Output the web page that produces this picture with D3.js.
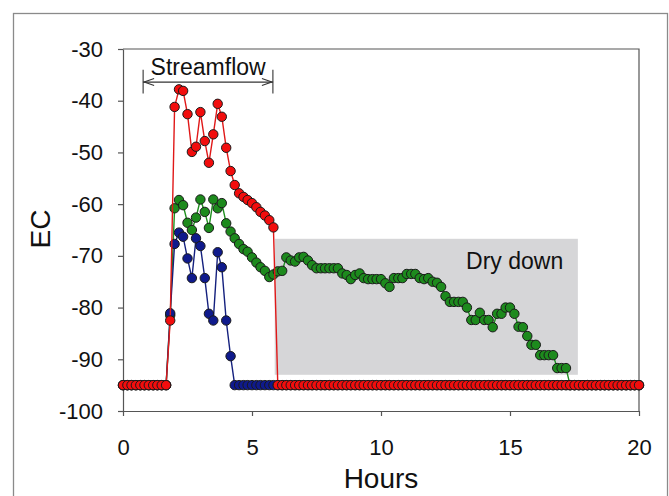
<!DOCTYPE html>
<html><head><meta charset="utf-8">
<script src="https://cdn.jsdelivr.net/npm/d3@7/dist/d3.min.js"></script>
<style>
body{margin:0;background:#fff}
svg{display:block}
text{font-family:"Liberation Sans",Arial,sans-serif;fill:#111}
</style>
</head><body>
<svg id="chart" width="669" height="496"></svg>
<script>
// ---- data (10-minute samples) ----
const hours = [
 0,0.17,0.33,0.5,0.67,0.83,1,1.17,1.33,1.5,1.67,1.83,2,2.17,2.33,2.5,2.67,2.83,3,3.17,
 3.33,3.5,3.67,3.83,4,4.17,4.33,4.5,4.67,4.83,5,5.17,5.33,5.5,5.67,5.83,6,6.17,6.33,6.5,
 6.67,6.83,7,7.17,7.33,7.5,7.67,7.83,8,8.17,8.33,8.5,8.67,8.83,9,9.17,9.33,9.5,9.67,9.83,
 10,10.17,10.33,10.5,10.67,10.83,11,11.17,11.33,11.5,11.67,11.83,12,12.17,12.33,12.5,12.67,12.83,13,13.17,
 13.33,13.5,13.67,13.83,14,14.17,14.33,14.5,14.67,14.83,15,15.17,15.33,15.5,15.67,15.83,16,16.17,16.33,16.5,
 16.67,16.83,17,17.17,17.33,17.5,17.67,17.83,18,18.17,18.33,18.5,18.67,18.83,19,19.17,19.33,19.5,19.67,19.83,
 20
];
const redEC = [
 -95,-95,-95,-95,-95,-95,-95,-95,-95,-95,-95,-82.5,-41.2,-37.8,-38.1,-42.6,-49.9,-48.9,-42.2,-47.8,
 -52.0,-46.5,-40.6,-43.1,-49.1,-53.6,-56.3,-57.9,-58.6,-59.2,-59.8,-60.6,-61.5,-62.2,-63.1,-64.5,-95,-95,-95,-95,
 -95,-95,-95,-95,-95,-95,-95,-95,-95,-95,-95,-95,-95,-95,-95,-95,-95,-95,-95,-95,
 -95,-95,-95,-95,-95,-95,-95,-95,-95,-95,-95,-95,-95,-95,-95,-95,-95,-95,-95,-95,
 -95,-95,-95,-95,-95,-95,-95,-95,-95,-95,-95,-95,-95,-95,-95,-95,-95,-95,-95,-95,
 -95,-95,-95,-95,-95,-95,-95,-95,-95,-95,-95,-95,-95,-95,-95,-95,-95,-95,-95,-95,
 -95
];
const blueEC = [
 -95,-95,-95,-95,-95,-95,-95,-95,-95,-95,-95,-81.1,-67.7,-65.5,-66.3,-70.5,-74.3,-66.6,-68.1,-74.3,
 -81.2,-82.5,-69.3,-72.2,-82.5,-89.4,-95,-95,-95,-95,-95,-95,-95,-95,-95,-95,-95,-95,-95,-95,
 -95,-95,-95,-95,-95,-95,-95,-95,-95,-95,-95,-95,-95,-95,-95,-95,-95,-95,-95,-95,
 -95,-95,-95,-95,-95,-95,-95,-95,-95,-95,-95,-95,-95,-95,-95,-95,-95,-95,-95,-95,
 -95,-95,-95,-95,-95,-95,-95,-95,-95,-95,-95,-95,-95,-95,-95,-95,-95,-95,-95,-95,
 -95,-95,-95,-95,-95,-95,-95,-95,-95,-95,-95,-95,-95,-95,-95,-95,-95,-95,-95,-95,
 -95
];
const greenEC = [
 -95,-95,-95,-95,-95,-95,-95,-95,-95,-95,-95,-81.5,-60.8,-59.2,-60.2,-63.6,-65.0,-62.6,-59.1,-61.5,
 -64.6,-59.1,-60.8,-59.8,-63.7,-65.3,-66.6,-67.7,-68.7,-69.2,-70.3,-71.3,-72.2,-72.9,-74.1,-73.6,-73.0,-72.9,-70.3,-70.9,
 -71.1,-70.3,-70.2,-70.9,-71.8,-72.4,-72.4,-72.4,-72.4,-72.4,-72.4,-73.4,-73.7,-74.5,-73.7,-73.4,-74.3,-74.5,-74.5,-74.5,
 -74.5,-75.3,-76.0,-74.3,-74.3,-74.3,-73.5,-73.5,-73.5,-74.3,-74.5,-74.3,-75.0,-75.2,-76.0,-77.8,-78.9,-78.9,-78.9,-78.9,
 -80.0,-82.4,-82.4,-81.0,-82.4,-82.4,-83.8,-81.2,-81.2,-80.0,-80.0,-81.2,-83.7,-83.8,-85.5,-87.2,-87.2,-89.2,-89.2,-89.2,
 -89.2,-91.7,-91.7,-91.7,-95,-95,-95,-95,-95,-95,-95,-95,-95,-95,-95,-95,-95,-95,-95,-95,
 -95
];
const xTicks = [0, 5, 10, 15, 20];
const yTicks = [-100, -90, -80, -70, -60, -50, -40, -30];
const xTitle = "Hours";
const yTitle = "EC";
const streamflowLabel = "Streamflow";
const streamflowRange = [0.78, 5.81];
const dryDownLabel = "Dry down";
const dryDownRange = [5.88, 17.63];
const dryDownEC = [-93.0, -66.7];

// ---- layout ----
const svg = d3.select("#chart");
const x = d3.scaleLinear().domain([0, 20]).range([123, 639]);
const y = d3.scaleLinear().domain([-100, -30]).range([411, 49]);
const axisColor = "#555";
const fmt = d => String(d); // plain hyphen-minus, as in the reference

// outer frame
svg.append("rect").attr("x", 13.5).attr("y", 13.5).attr("width", 654).attr("height", 510)
  .attr("fill", "none").attr("stroke", "#8a8a8a").attr("stroke-width", 1.3);

// dry down shading
svg.append("rect")
  .attr("x", x(dryDownRange[0])).attr("y", y(dryDownEC[1]))
  .attr("width", x(dryDownRange[1]) - x(dryDownRange[0]))
  .attr("height", y(dryDownEC[0]) - y(dryDownEC[1]))
  .attr("fill", "#d6d6d8");

svg.append("text").attr("x", x(15.18)).attr("y", y(-72.6))
  .attr("text-anchor", "middle").attr("font-size", 23).text(dryDownLabel);

// axes
const gx = svg.append("g").attr("transform", "translate(0,411)")
  .call(d3.axisBottom(x).tickValues(xTicks).tickSize(5).tickSizeOuter(0).tickPadding(23).tickFormat(fmt));
const gy = svg.append("g").attr("transform", "translate(123,0)")
  .call(d3.axisLeft(y).tickValues(yTicks).tickSize(5).tickSizeOuter(0).tickPadding(15).tickFormat(fmt));
[gx, gy].forEach(g => {
  g.selectAll("path,line").attr("stroke", axisColor).attr("stroke-width", 1.2);
  g.selectAll("text").attr("font-size", 22).attr("fill", "#111")
    .attr("font-family", '"Liberation Sans",Arial,sans-serif');
});
// plot box top/right
svg.append("path")
  .attr("d", `M${x(0)},${y(-30)}H${x(20)}V${y(-100)}`)
  .attr("fill", "none").attr("stroke", axisColor).attr("stroke-width", 1.2);

// series
const series = [
  {values: greenEC, fill: "#1d8a1d", line: "#1f8f1f"},
  {values: blueEC, fill: "#0f1a8c", line: "#14207e"},
  {values: redEC, fill: "#f20d0d", line: "#e01818"}
];
const lineGen = d3.line().x(d => x(d[0])).y(d => y(d[1]));
series.forEach(s => {
  const pts = hours.map((h, i) => [h, s.values[i]]);
  svg.append("path").datum(pts).attr("d", lineGen)
    .attr("fill", "none").attr("stroke", s.line).attr("stroke-width", 1.4);
  svg.append("g").selectAll("circle").data(pts).join("circle")
    .attr("cx", d => x(d[0])).attr("cy", d => y(d[1])).attr("r", 4.7)
    .attr("fill", s.fill).attr("stroke", "#1a1a1a").attr("stroke-width", 1);
});

// streamflow annotation
const sy = y(-36.4);
const sx0 = x(streamflowRange[0]), sx1 = x(streamflowRange[1]);
const ann = svg.append("g").attr("stroke", "#333").attr("stroke-width", 1.1).attr("fill", "none");
ann.append("line").attr("x1", sx0).attr("x2", sx1).attr("y1", sy).attr("y2", sy);
ann.append("line").attr("x1", sx0).attr("x2", sx0).attr("y1", y(-34.0)).attr("y2", y(-38.6));
ann.append("line").attr("x1", sx1).attr("x2", sx1).attr("y1", y(-34.0)).attr("y2", y(-38.6));
ann.append("path").attr("d", `M${sx0+11},${sy-3.5}L${sx0+1},${sy}L${sx0+11},${sy+3.5}`);
ann.append("path").attr("d", `M${sx1-11},${sy-3.5}L${sx1-1},${sy}L${sx1-11},${sy+3.5}`);
svg.append("text").attr("x", x(3.3)).attr("y", y(-35.0))
  .attr("text-anchor", "middle").attr("font-size", 23).text(streamflowLabel);

// axis titles
svg.append("text").attr("x", 381).attr("y", 488).attr("text-anchor", "middle")
  .attr("font-size", 28).text(xTitle);
svg.append("text").attr("transform", "translate(50,229) rotate(-90)")
  .attr("text-anchor", "middle").attr("font-size", 28).text(yTitle);
</script>
</body></html>
